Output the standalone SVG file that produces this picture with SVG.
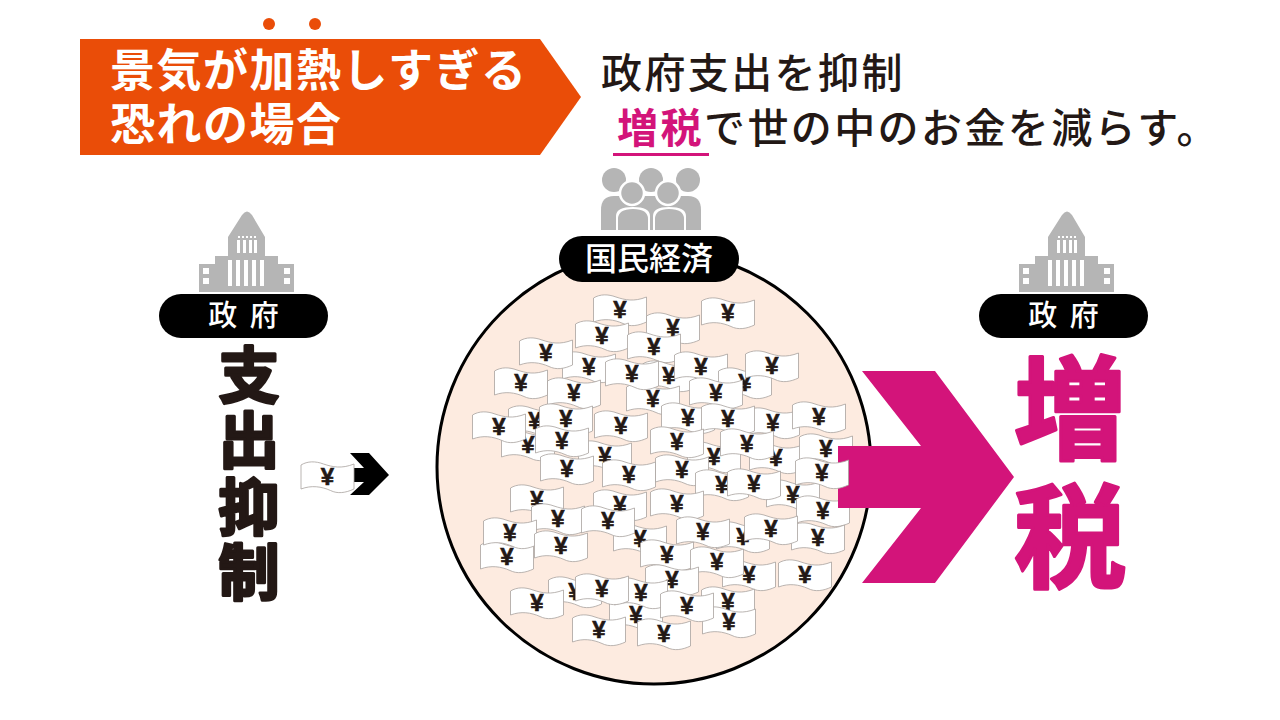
<svg xmlns="http://www.w3.org/2000/svg" width="1280" height="720" viewBox="0 0 1280 720">
<style>
text{font-family:"Noto Sans CJK JP","Noto Sans",sans-serif}
.bill{fill:#fff;stroke:#a8a29e;stroke-width:.8}
.yen{font-family:"Liberation Sans",sans-serif;font-weight:700;font-size:24px;fill:#231815;stroke:#231815;stroke-width:.6;text-anchor:middle}
.pillt{fill:#fff;font-weight:500;text-anchor:middle}
.grey{fill:#b5b5b5}
.win{fill:#fff}
.head{fill:#fff;font-weight:700;font-size:45px;letter-spacing:1.500px}
.lead{fill:#231815;font-weight:500;font-size:41px;letter-spacing:2.400px}
.big{fill:#231815;font-weight:700;font-size:61px;text-anchor:middle;stroke:#231815;stroke-width:3;stroke-linejoin:round}
.tax{fill:#d3147a;font-weight:700;font-size:112px;text-anchor:middle;stroke:#d3147a;stroke-width:3;stroke-linejoin:round}
</style>
<defs>
<path id="b" d="M-26.500-12C-20-16-12-16-4-13C5-10 14-8 26.500-13L26.500 12C18 16 10 17 3 13.500C-6 9.500-16 8-26.500 12Z"/>
<g id="gov">
<path class="grey" d="M199 292V264H215V256H228V237L242 215Q247 208 252 215L265 237V256H278V264H294V292Z"/>
<path class="win" d="M238 236h2v2h-2zM242 236h2v2h-2zM246 236h2v2h-2zM250 236h2v2h-2zM254 236h2v2h-2zM237 240h3v13h-3zM243 240h3v13h-3zM249 240h3v13h-3zM254 240h3v13h-3zM228 260h4v26h-4zM236 260h4v26h-4zM244 260h4v26h-4zM252 260h4v26h-4zM260 260h4v26h-4zM203 268h6v6h-6zM203 278h6v6h-6zM284 268h6v6h-6zM284 278h6v6h-6z"/>
<rect x="159" y="294" width="169" height="44" rx="22" fill="#000"/>
<text class="pillt" x="243.500" y="326" font-size="29" word-spacing="6">政 府</text>
</g>
</defs>
<g id="header">
<path d="M80 39H540L581 97L540 155H80Z" fill="#ea4d08"/>
<circle cx="269" cy="24" r="6" fill="#ea4d08"/><circle cx="315" cy="24" r="6" fill="#ea4d08"/>
<text class="head" x="110" y="87">景気が加熱しすぎる</text>
<text class="head" x="110" y="141">恐れの場合</text>
</g>
<g id="lead">
<text class="lead" x="601" y="88">政府支出を抑制</text>
<text class="lead" x="617" y="143" style="fill:#d3147a;font-weight:700">増税</text>
<text class="lead" x="704" y="143">で世の中のお金を減らす。</text>
<rect x="613" y="153" width="96" height="3" fill="#d3147a"/>
</g>
<g id="gov-left"><use href="#gov"/></g>
<g id="gov-right"><use href="#gov" x="820"/></g>
<g id="spending">
<text class="big" x="249" y="398">支</text>
<text class="big" x="249" y="463">出</text>
<text class="big" x="249" y="530">抑</text>
<text class="big" x="249" y="595">制</text>
</g>
<g id="tax">
<text class="tax" x="1070" y="451">増</text>
<text class="tax" x="1070" y="579">税</text>
</g>
<g id="small-arrow">
<path d="M350 453H369L389 475L369 495H350L364 482H345V468H364Z" fill="#000"/>
<g transform="translate(327.500 477)"><use href="#b" class="bill"/><text class="yen" y="8">¥</text></g>
</g>
<g id="economy">
<circle cx="654" cy="467" r="217" fill="#fdebe0" stroke="#000" stroke-width="3"/>
<g id="people">
<circle class="grey" cx="614" cy="180" r="12"/><circle class="grey" cx="651" cy="180" r="12"/><circle class="grey" cx="688" cy="180" r="12"/>
<path class="grey" d="M601 230V210Q601 196 614 196H688Q701 196 701 210V230Z"/>
<path d="M616 230V216Q616 207 633 207Q650 207 650 216V230ZM653 230V216Q653 207 669 207Q686 207 686 216V230Z" fill="#fff"/>
<circle class="grey" cx="632" cy="193" r="12" stroke="#fff" stroke-width="2.500"/><circle class="grey" cx="668" cy="193" r="12" stroke="#fff" stroke-width="2.500"/>
<path class="grey" d="M618 230V219Q618 209 633 209Q648 209 648 219V230ZM655 230V219Q655 209 669 209Q684 209 684 219V230Z"/>
</g>
<g id="economy-label"><rect x="559" y="236" width="180" height="46" rx="23" fill="#000"/><text class="pillt" x="649" y="270" font-size="32">国民経済</text></g>
<g id="bills">
<g transform="translate(620 310)"><use href="#b" class="bill"/><text class="yen" y="8">¥</text></g>
<g transform="translate(673 328)"><use href="#b" class="bill"/><text class="yen" y="8">¥</text></g>
<g transform="translate(728 313)"><use href="#b" class="bill"/><text class="yen" y="8">¥</text></g>
<g transform="translate(602 336)"><use href="#b" class="bill"/><text class="yen" y="8">¥</text></g>
<g transform="translate(654 347)"><use href="#b" class="bill"/><text class="yen" y="8">¥</text></g>
<g transform="translate(589 367)"><use href="#b" class="bill"/><text class="yen" y="8">¥</text></g>
<g transform="translate(546 353)"><use href="#b" class="bill"/><text class="yen" y="8">¥</text></g>
<g transform="translate(669 376)"><use href="#b" class="bill"/><text class="yen" y="8">¥</text></g>
<g transform="translate(701 367)"><use href="#b" class="bill"/><text class="yen" y="8">¥</text></g>
<g transform="translate(745 383)"><use href="#b" class="bill"/><text class="yen" y="8">¥</text></g>
<g transform="translate(772 366)"><use href="#b" class="bill"/><text class="yen" y="8">¥</text></g>
<g transform="translate(653 399)"><use href="#b" class="bill"/><text class="yen" y="8">¥</text></g>
<g transform="translate(632 374)"><use href="#b" class="bill"/><text class="yen" y="8">¥</text></g>
<g transform="translate(521 383)"><use href="#b" class="bill"/><text class="yen" y="8">¥</text></g>
<g transform="translate(574 393)"><use href="#b" class="bill"/><text class="yen" y="8">¥</text></g>
<g transform="translate(716 393)"><use href="#b" class="bill"/><text class="yen" y="8">¥</text></g>
<g transform="translate(535 421)"><use href="#b" class="bill"/><text class="yen" y="8">¥</text></g>
<g transform="translate(528 445)"><use href="#b" class="bill"/><text class="yen" y="8">¥</text></g>
<g transform="translate(566 419)"><use href="#b" class="bill"/><text class="yen" y="8">¥</text></g>
<g transform="translate(499 427)"><use href="#b" class="bill"/><text class="yen" y="8">¥</text></g>
<g transform="translate(605 456)"><use href="#b" class="bill"/><text class="yen" y="8">¥</text></g>
<g transform="translate(621 426)"><use href="#b" class="bill"/><text class="yen" y="8">¥</text></g>
<g transform="translate(562 441)"><use href="#b" class="bill"/><text class="yen" y="8">¥</text></g>
<g transform="translate(567 469)"><use href="#b" class="bill"/><text class="yen" y="8">¥</text></g>
<g transform="translate(773 423)"><use href="#b" class="bill"/><text class="yen" y="8">¥</text></g>
<g transform="translate(688 418)"><use href="#b" class="bill"/><text class="yen" y="8">¥</text></g>
<g transform="translate(728 419)"><use href="#b" class="bill"/><text class="yen" y="8">¥</text></g>
<g transform="translate(819 417)"><use href="#b" class="bill"/><text class="yen" y="8">¥</text></g>
<g transform="translate(776 458)"><use href="#b" class="bill"/><text class="yen" y="8">¥</text></g>
<g transform="translate(714 457)"><use href="#b" class="bill"/><text class="yen" y="8">¥</text></g>
<g transform="translate(677 442)"><use href="#b" class="bill"/><text class="yen" y="8">¥</text></g>
<g transform="translate(747 444)"><use href="#b" class="bill"/><text class="yen" y="8">¥</text></g>
<g transform="translate(826 449)"><use href="#b" class="bill"/><text class="yen" y="8">¥</text></g>
<g transform="translate(629 475)"><use href="#b" class="bill"/><text class="yen" y="8">¥</text></g>
<g transform="translate(682 470)"><use href="#b" class="bill"/><text class="yen" y="8">¥</text></g>
<g transform="translate(722 485)"><use href="#b" class="bill"/><text class="yen" y="8">¥</text></g>
<g transform="translate(793 495)"><use href="#b" class="bill"/><text class="yen" y="8">¥</text></g>
<g transform="translate(754 484)"><use href="#b" class="bill"/><text class="yen" y="8">¥</text></g>
<g transform="translate(823 511)"><use href="#b" class="bill"/><text class="yen" y="8">¥</text></g>
<g transform="translate(537 500)"><use href="#b" class="bill"/><text class="yen" y="8">¥</text></g>
<g transform="translate(620 505)"><use href="#b" class="bill"/><text class="yen" y="8">¥</text></g>
<g transform="translate(677 504)"><use href="#b" class="bill"/><text class="yen" y="8">¥</text></g>
<g transform="translate(640 539)"><use href="#b" class="bill"/><text class="yen" y="8">¥</text></g>
<g transform="translate(558 519)"><use href="#b" class="bill"/><text class="yen" y="8">¥</text></g>
<g transform="translate(608 521)"><use href="#b" class="bill"/><text class="yen" y="8">¥</text></g>
<g transform="translate(507 557)"><use href="#b" class="bill"/><text class="yen" y="8">¥</text></g>
<g transform="translate(510 533)"><use href="#b" class="bill"/><text class="yen" y="8">¥</text></g>
<g transform="translate(561 546)"><use href="#b" class="bill"/><text class="yen" y="8">¥</text></g>
<g transform="translate(743 537)"><use href="#b" class="bill"/><text class="yen" y="8">¥</text></g>
<g transform="translate(703 532)"><use href="#b" class="bill"/><text class="yen" y="8">¥</text></g>
<g transform="translate(818 538)"><use href="#b" class="bill"/><text class="yen" y="8">¥</text></g>
<g transform="translate(771 529)"><use href="#b" class="bill"/><text class="yen" y="8">¥</text></g>
<g transform="translate(667 555)"><use href="#b" class="bill"/><text class="yen" y="8">¥</text></g>
<g transform="translate(749 575)"><use href="#b" class="bill"/><text class="yen" y="8">¥</text></g>
<g transform="translate(717 562)"><use href="#b" class="bill"/><text class="yen" y="8">¥</text></g>
<g transform="translate(805 575)"><use href="#b" class="bill"/><text class="yen" y="8">¥</text></g>
<g transform="translate(672 580)"><use href="#b" class="bill"/><text class="yen" y="8">¥</text></g>
<g transform="translate(575 592)"><use href="#b" class="bill"/><text class="yen" y="8">¥</text></g>
<g transform="translate(636 615)"><use href="#b" class="bill"/><text class="yen" y="8">¥</text></g>
<g transform="translate(641 593)"><use href="#b" class="bill"/><text class="yen" y="8">¥</text></g>
<g transform="translate(602 589)"><use href="#b" class="bill"/><text class="yen" y="8">¥</text></g>
<g transform="translate(537 603)"><use href="#b" class="bill"/><text class="yen" y="8">¥</text></g>
<g transform="translate(728 602)"><use href="#b" class="bill"/><text class="yen" y="8">¥</text></g>
<g transform="translate(729 622)"><use href="#b" class="bill"/><text class="yen" y="8">¥</text></g>
<g transform="translate(687 606)"><use href="#b" class="bill"/><text class="yen" y="8">¥</text></g>
<g transform="translate(664 634)"><use href="#b" class="bill"/><text class="yen" y="8">¥</text></g>
<g transform="translate(599 630)"><use href="#b" class="bill"/><text class="yen" y="8">¥</text></g>
</g>
<g id="tax-arrow"><path d="M862 371H935L1014 477L935 583H862L921 508H838V446H921Z" fill="#d3147a"/></g>
<g transform="translate(822 473)"><use href="#b" class="bill"/><text class="yen" y="8">¥</text></g>
</g>
</svg>
